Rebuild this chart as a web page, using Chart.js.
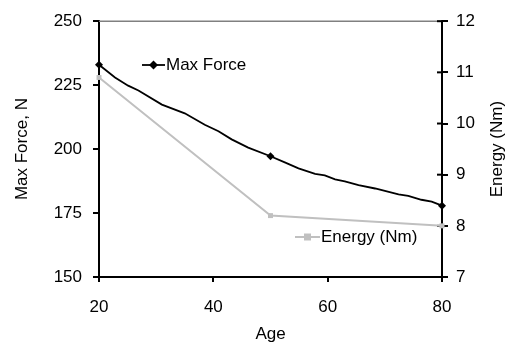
<!DOCTYPE html>
<html>
<head>
<meta charset="utf-8">
<script src="https://cdn.jsdelivr.net/npm/chart.js@4/dist/chart.umd.min.js"></script>
<style>
  html, body { margin: 0; padding: 0; background: #fff; }
  #wrap { width: 508px; height: 346px; }
</style>
</head>
<body>
<div id="wrap"><canvas id="c" width="508" height="346"></canvas></div>
<script>
// ---- data ----
const forceLabel = 'Max Force';
const energyLabel = 'Energy (Nm)';
const xTitle = 'Age';
const yLeftTitle = 'Max Force, N';
const yRightTitle = 'Energy (Nm)';

const forceAges   = [20, 22.8, 25.1, 26.9, 31, 35, 38.5, 40.9, 43.2, 46.1, 50, 52.5, 54.9, 57.8, 59.5, 61.3, 63, 65.4, 68.3, 72.4, 74.1, 76.4, 78.2, 80];
const forceValues = [233, 228, 224.8, 222.9, 217.4, 214, 209.5, 207, 203.8, 200.6, 197.2, 194.8, 192.5, 190.3, 189.7, 188.2, 187.4, 185.9, 184.6, 182.3, 181.7, 180.2, 179.5, 177.9];
const forceMarkerAges = [20, 50, 80];

const energyAges   = [20, 50, 80];
const energyValues = [10.9, 8.2, 8.0];

const xTicks = [20, 40, 60, 80];
const yLeftTicks = [150, 175, 200, 225, 250];
const yRightTicks = [7, 8, 9, 10, 11, 12];

// ---- styling ----
const FONT = "'Liberation Sans', Arial, sans-serif";
const FS = 17;
const BLACK = '#000000';
const GRAY = '#c0c0c0';

const forceData = forceAges.map((a, i) => ({ x: a, y: forceValues[i] }));
const energyData = energyAges.map((a, i) => ({ x: a, y: energyValues[i] }));
const forceRadius = forceAges.map(a => forceMarkerAges.includes(a) ? 4 : 0);

const extrasPlugin = {
  id: 'extras',
  beforeDatasetsDraw(chart) {
    const { ctx, chartArea } = chart;
    // top border (gray)
    ctx.save();
    ctx.strokeStyle = '#808080';
    ctx.lineWidth = 1.5;
    ctx.beginPath();
    ctx.moveTo(chartArea.left, chartArea.top);
    ctx.lineTo(chartArea.right, chartArea.top);
    ctx.stroke();
    // inner part of right-axis tick marks (crossing ticks)
    const yr = chart.scales.y2;
    ctx.strokeStyle = BLACK;
    ctx.lineWidth = 2;
    yr.ticks.forEach(t => {
      const py = yr.getPixelForValue(t.value);
      ctx.beginPath();
      ctx.moveTo(chartArea.right - 5, py);
      ctx.lineTo(chartArea.right, py);
      ctx.stroke();
    });
    ctx.restore();
  },
  afterDraw(chart) {
    const { ctx, chartArea } = chart;
    ctx.save();
    ctx.fillStyle = BLACK;
    ctx.font = FS + 'px ' + FONT;
    // right axis title, reading bottom to top
    ctx.translate(497, (chartArea.top + chartArea.bottom) / 2);
    ctx.rotate(-Math.PI / 2);
    ctx.textAlign = 'center';
    ctx.textBaseline = 'middle';
    ctx.fillText(yRightTitle, 0, 0);
    ctx.restore();

    // legend entries placed inside plot
    const ds = chart.data.datasets;
    drawLegend(ctx, ds[0], 142, 165, 65, 'diamond');
    drawLegend(ctx, ds[1], 295, 320, 237, 'square');
  }
};

function drawLegend(ctx, d, x0, x1, y, shape) {
  ctx.save();
  ctx.strokeStyle = d.borderColor;
  ctx.lineWidth = d.borderWidth;
  ctx.beginPath();
  ctx.moveTo(x0, y);
  ctx.lineTo(x1, y);
  ctx.stroke();
  const cx = (x0 + x1) / 2;
  ctx.fillStyle = d.pointBackgroundColor;
  ctx.beginPath();
  if (shape === 'diamond') {
    const r = 4.5;
    ctx.moveTo(cx, y - r); ctx.lineTo(cx + r, y); ctx.lineTo(cx, y + r); ctx.lineTo(cx - r, y);
    ctx.closePath();
  } else {
    ctx.rect(cx - 3.5, y - 3.5, 7, 7);
  }
  ctx.fill();
  ctx.fillStyle = BLACK;
  ctx.font = FS + 'px ' + FONT;
  ctx.textAlign = 'left';
  ctx.textBaseline = 'middle';
  ctx.fillText(d.label, x1 + 1, y);
  ctx.restore();
}

new Chart(document.getElementById('c'), {
  type: 'line',
  data: {
    datasets: [
      {
        label: forceLabel,
        data: forceData,
        yAxisID: 'y',
        borderColor: BLACK,
        backgroundColor: BLACK,
        borderWidth: 1.8,
        pointStyle: 'rectRot',
        pointRadius: forceRadius,
        pointBackgroundColor: BLACK,
        pointBorderColor: BLACK,
        pointBorderWidth: 0,
        tension: 0,
        clip: false,
        order: 1
      },
      {
        label: energyLabel,
        data: energyData,
        yAxisID: 'y2',
        borderColor: GRAY,
        backgroundColor: GRAY,
        borderWidth: 2,
        pointStyle: 'rect',
        pointRadius: 3.5,
        pointBackgroundColor: GRAY,
        pointBorderColor: GRAY,
        pointBorderWidth: 0,
        tension: 0,
        clip: false,
        order: 2
      }
    ]
  },
  options: {
    responsive: false,
    animation: false,
    devicePixelRatio: 1,
    layout: { padding: { top: 16, left: 0, right: 0, bottom: 0 } },
    plugins: { legend: { display: false }, tooltip: { enabled: false }, title: { display: false } },
    scales: {
      x: {
        type: 'linear',
        position: 'bottom',
        min: 20, max: 80,
        afterBuildTicks: s => { s.ticks = xTicks.map(v => ({ value: v })); },
        afterFit: s => { s.height = 69; },
        grid: { display: true, drawOnChartArea: false, drawTicks: true, tickLength: 5, color: BLACK, lineWidth: 2 },
        border: { display: true, color: BLACK, width: 2 },
        ticks: { color: BLACK, font: { family: FONT, size: FS }, padding: 15, maxRotation: 0 },
        title: { display: true, text: xTitle, color: BLACK, font: { family: FONT, size: FS }, padding: { top: 0, bottom: 1 } }
      },
      y: {
        type: 'linear',
        position: 'left',
        min: 150, max: 250,
        afterBuildTicks: s => { s.ticks = yLeftTicks.map(v => ({ value: v })); },
        afterFit: s => { s.width = 99; },
        grid: { display: true, drawOnChartArea: false, drawTicks: true, tickLength: 6, color: BLACK, lineWidth: 2 },
        border: { display: true, color: BLACK, width: 2 },
        ticks: { color: BLACK, font: { family: FONT, size: FS }, padding: 11 },
        title: { display: true, text: yLeftTitle, color: BLACK, font: { family: FONT, size: FS }, padding: { top: 12, bottom: 0 } }
      },
      y2: {
        type: 'linear',
        position: 'right',
        min: 7, max: 12,
        afterBuildTicks: s => { s.ticks = yRightTicks.map(v => ({ value: v })); },
        afterFit: s => { s.width = 66; },
        grid: { display: true, drawOnChartArea: false, drawTicks: true, tickLength: 6, color: BLACK, lineWidth: 2 },
        border: { display: true, color: BLACK, width: 2 },
        ticks: { color: BLACK, font: { family: FONT, size: FS }, padding: 8 },
        title: { display: false }
      }
    }
  },
  plugins: [extrasPlugin]
});
</script>
</body>
</html>
